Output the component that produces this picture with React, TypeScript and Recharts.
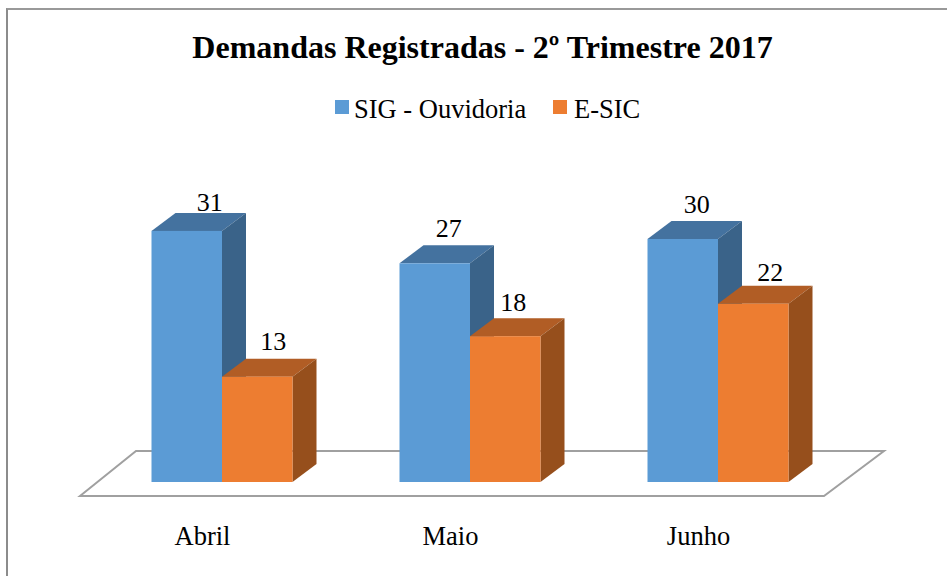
import { BarChart, Bar, XAxis, YAxis, LabelList, usePlotArea } from "recharts"

const months = ["Abril", "Maio", "Junho"]
const ouvidoria = [31, 27, 30]
const esic = [13, 18, 22]
const chartData = months.map((month, i) => ({ month, ouvidoria: ouvidoria[i], esic: esic[i] }))

const DEPTH_X = 24
const DEPTH_Y = 18
const FONT = "'Liberation Serif', 'Times New Roman', serif"

const blue = { front: "#5B9BD5", top: "#44729F", side: "#3A6389" }
const orange = { front: "#ED7D31", top: "#B15D25", side: "#964F1C" }

// the labels were placed by hand in the original, so they need a small nudge each
const ouvidoriaNudge = [[-1, -1], [-10, -7], [-10, -7]]
const esicNudge = [[-8, -8], [-16, -6], [-7, -4]]

function Box3D({ x, y, width, height, colors }: any) {
  const right = x + width
  const bottom = y + height
  return (
    <g>
      <polygon
        points={`${x},${y} ${x + DEPTH_X},${y - DEPTH_Y} ${right + DEPTH_X},${y - DEPTH_Y} ${right},${y}`}
        fill={colors.top}
      />
      <polygon
        points={`${right},${y} ${right + DEPTH_X},${y - DEPTH_Y} ${right + DEPTH_X},${bottom - DEPTH_Y} ${right},${bottom}`}
        fill={colors.side}
      />
      <rect x={x} y={y} width={width} height={height} fill={colors.front} />
    </g>
  )
}

function Floor() {
  const plot = usePlotArea()
  if (!plot) return null
  const left = plot.x
  const right = plot.x + plot.width
  const bottom = plot.y + plot.height
  const points = [
    [left - 17.5, bottom + 14],
    [left + 38.5, bottom - 31],
    [right + 42.5, bottom - 31],
    [right - 17.5, bottom + 14],
  ]
    .map((p) => p.join(","))
    .join(" ")
  return <polygon points={points} fill="#fff" stroke="#A0A0A0" strokeWidth={2} />
}

function MonthTick({ x, y, payload }: any) {
  return (
    <text x={x - 19} y={y + 55} textAnchor="middle" fontFamily={FONT} fontSize={26.5} fill="#000">
      {payload.value}
    </text>
  )
}

function valueLabel(nudge: number[][]) {
  return ({ x, y, width, value, index }: any) => (
    <text
      x={x + width / 2 + 24 + nudge[index][0]}
      y={y - 19 + nudge[index][1]}
      textAnchor="middle"
      fontFamily={FONT}
      fontSize={26}
      fill="#000"
    >
      {value}
    </text>
  )
}

function ChartLegend() {
  return (
    <g fontFamily={FONT} fontSize={26.5} fill="#000">
      <rect x={335} y={100} width={14} height={14} fill={blue.front} />
      <text x={354} y={118}>SIG - Ouvidoria</text>
      <rect x={553} y={100} width={14} height={14} fill={orange.front} />
      <text x={574} y={118}>E-SIC</text>
    </g>
  )
}

export default function App() {
  return (
    <div style={{ position: "absolute", left: 0, top: 0, width: 947, height: 576, background: "#fff", overflow: "hidden" }}>
      <div style={{ position: "absolute", left: 6, top: 8, width: 941, height: 568, borderLeft: "2px solid #8C8C8C", borderTop: "2px solid #999", boxSizing: "border-box" }} />
      <BarChart
        width={947}
        height={576}
        data={chartData}
        barGap={0}
        barSize={70.5}
        margin={{ top: 198.5, right: 105.5, bottom: 0, left: 97.5 }}
        style={{ position: "absolute", left: 0, top: 0 }}
      >
        <XAxis dataKey="month" height={94} axisLine={false} tickLine={false} tick={MonthTick} interval={0} />
        <YAxis hide domain={[0, 35]} />
        <Floor />
        <text x={482.5} y={58} textAnchor="middle" fontFamily={FONT} fontWeight="bold" fontSize={32} fill="#000">
          Demandas Registradas - 2º Trimestre 2017
        </text>
        <ChartLegend />
        <Bar dataKey="ouvidoria" isAnimationActive={false} shape={(p: any) => <Box3D {...p} colors={blue} />}>
          <LabelList dataKey="ouvidoria" content={valueLabel(ouvidoriaNudge)} />
        </Bar>
        <Bar dataKey="esic" isAnimationActive={false} shape={(p: any) => <Box3D {...p} colors={orange} />}>
          <LabelList dataKey="esic" content={valueLabel(esicNudge)} />
        </Bar>
      </BarChart>
    </div>
  )
}
